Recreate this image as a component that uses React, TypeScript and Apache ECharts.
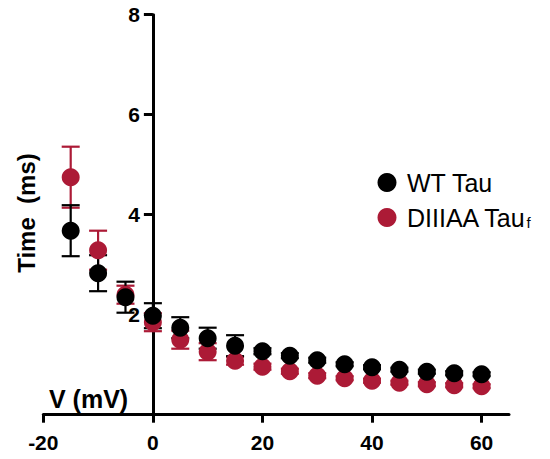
import React, { useEffect, useRef } from "react";
import * as echarts from "echarts";

const voltages = [-15, -10, -5, 0, 5, 10, 15, 20, 25, 30, 35, 40, 45, 50, 55, 60];
const wtTau = [3.68, 2.83, 2.35, 1.98, 1.74, 1.53, 1.38, 1.27, 1.18, 1.09, 1.01, 0.95, 0.9, 0.86, 0.83, 0.81];
const wtErr = [0.51, 0.36, 0.31, 0.25, 0.21, 0.21, 0.21, 0.06, 0.05, 0.05, 0.04, 0.04, 0.04, 0.04, 0.04, 0.04];
const aaTau = [4.75, 3.29, 2.4, 1.85, 1.5, 1.26, 1.08, 0.96, 0.87, 0.78, 0.73, 0.68, 0.64, 0.61, 0.59, 0.57];
const aaErr = [0.61, 0.39, 0.18, 0.18, 0.18, 0.17, 0.08, 0.06, 0.05, 0.05, 0.04, 0.04, 0.04, 0.04, 0.04, 0.04];
const xTicks = [-20, 0, 20, 40, 60];
const yTicks = [2, 4, 6, 8];

const WT_NAME = "WT Tau";
const AA_NAME = "DIIIAA Tau_f";
const BLACK = "#000000";
const RED = "#AC1A36";
const FONT = "Liberation Sans, Arial, sans-serif";

function errorSeries(name: string, ys: number[], errs: number[], color: string) {
  return {
    type: "custom",
    name,
    clip: false,
    data: voltages.map((v, i) => [v, ys[i], errs[i]]),
    encode: { x: 0, y: 1 },
    renderItem: (params: any, api: any) => {
      const x = api.value(0);
      const y = api.value(1);
      const e = api.value(2);
      const top = api.coord([x, y + e]);
      const bot = api.coord([x, y - e]);
      const hw = 9;
      const style = { stroke: color, lineWidth: 2.2 };
      return {
        type: "group",
        children: [
          { type: "line", shape: { x1: top[0], y1: top[1], x2: bot[0], y2: bot[1] }, style },
          { type: "line", shape: { x1: top[0] - hw, y1: top[1], x2: top[0] + hw, y2: top[1] }, style },
          { type: "line", shape: { x1: bot[0] - hw, y1: bot[1], x2: bot[0] + hw, y2: bot[1] }, style },
        ],
      };
    },
  };
}

export default function App() {
  const ref = useRef<HTMLDivElement>(null);
  useEffect(() => {
    if (!ref.current) return;
    const chart = echarts.init(ref.current, null, { renderer: "svg" });
    const axisLabelStyle = { color: "#000", fontSize: 21, fontWeight: "bold", fontFamily: FONT };
    const gridLeft = 43.3;
    const gridRight = 41;
    const plotWidth = 550 - gridLeft - gridRight;
    // y axis sits at V = 0 of the x range [-20, 65]
    const yAxisOffset = -plotWidth * (20 / 85);
    chart.setOption({
      animation: false,
      backgroundColor: "#fff",
      grid: { left: gridLeft, right: gridRight, top: 14.7, bottom: 44.3 },
      xAxis: {
        type: "value",
        min: -20,
        max: 65,
        interval: 20,
        axisLine: { onZero: false, lineStyle: { color: "#000", width: 3 } },
        axisTick: { length: 8, lineStyle: { color: "#000", width: 3 }, customValues: xTicks },
        axisLabel: { ...axisLabelStyle, margin: 17, customValues: xTicks },
        splitLine: { show: false },
      },
      yAxis: {
        type: "value",
        min: 0,
        max: 8,
        interval: 2,
        offset: yAxisOffset,
        axisLine: { onZero: false, lineStyle: { color: "#000", width: 3 } },
        axisTick: { length: 9, lineStyle: { color: "#000", width: 3 }, customValues: yTicks },
        axisLabel: { ...axisLabelStyle, margin: 13, customValues: yTicks },
        splitLine: { show: false },
      },
      legend: {
        data: [WT_NAME, AA_NAME],
        orient: "vertical",
        left: 372.5,
        top: 165,
        icon: "circle",
        itemWidth: 30,
        itemHeight: 19,
        itemGap: 10,
        formatter: (name: string) => (name === AA_NAME ? "DIIIAA Tau{sub|f}" : name),
        textStyle: {
          color: "#000",
          fontSize: 25,
          lineHeight: 24,
          fontFamily: FONT,
          rich: {
            sub: { fontSize: 15, fontFamily: FONT, color: "#000", verticalAlign: "bottom", lineHeight: 24, padding: [9, 0, 0, 0] },
          },
        },
      },
      graphic: [
        {
          type: "text",
          left: 49,
          top: 386,
          style: { text: "V (mV)", fill: "#000", fontSize: 25, fontWeight: "bold", fontFamily: FONT },
        },
        {
          type: "text",
          x: 26,
          y: 213,
          rotation: Math.PI / 2,
          style: {
            text: "Time  (ms)",
            fill: "#000",
            fontSize: 24,
            fontWeight: "bold",
            fontFamily: FONT,
            textAlign: "center",
            textVerticalAlign: "middle",
          },
        },
      ],
      series: [
        errorSeries("aa-err", aaTau, aaErr, RED),
        {
          type: "scatter",
          name: AA_NAME,
          symbol: "circle",
          symbolSize: 18,
          itemStyle: { color: RED, opacity: 1 },
          data: voltages.map((v, i) => [v, aaTau[i]]),
        },
        errorSeries("wt-err", wtTau, wtErr, BLACK),
        {
          type: "scatter",
          name: WT_NAME,
          symbol: "circle",
          symbolSize: 18,
          itemStyle: { color: BLACK, opacity: 1 },
          data: voltages.map((v, i) => [v, wtTau[i]]),
        },
      ],
    });
    return () => chart.dispose();
  }, []);
  return (
    <div
      ref={ref}
      style={{ position: "absolute", left: 0, top: 0, width: 550, height: 459, background: "#fff" }}
    />
  );
}
